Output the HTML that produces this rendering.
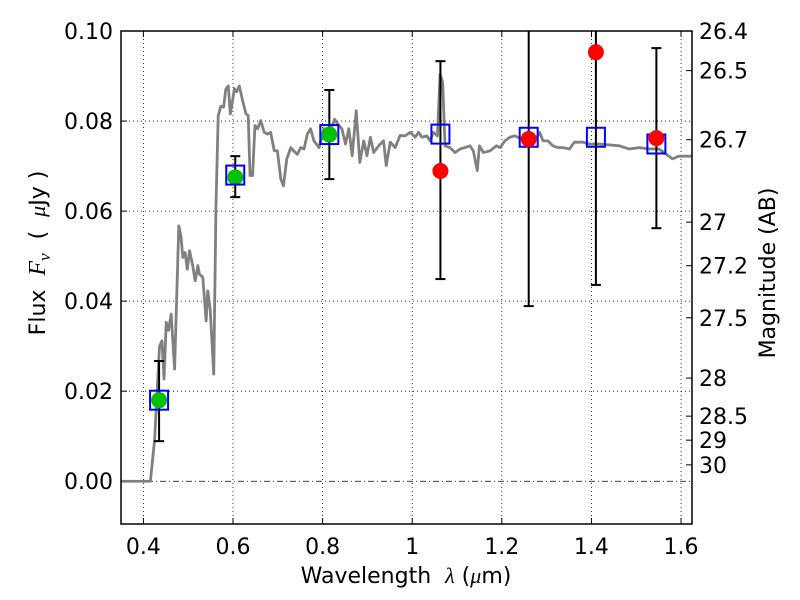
<!DOCTYPE html>
<html><head><meta charset="utf-8"><style>
body{margin:0;background:#fff;}
svg{display:block;font-family:"DejaVu Sans","Liberation Sans",sans-serif;}
svg text{white-space:pre;}
</style></head><body>
<svg id="chart" width="800" height="600"></svg>
<script>
const waveSpec=[0.35,0.4156,0.425,0.436,0.4415,0.446,0.451,0.456,0.462,0.4696,0.479,0.484,0.488,0.493,0.498,0.503,0.510,0.5156,0.5215,0.525,0.5326,0.54,0.5437,0.549,0.557,0.562,0.567,0.573,0.579,0.584,0.5896,0.594,0.599,0.603,0.608,0.614,0.6215,0.629,0.634,0.638,0.6437,0.649,0.655,0.662,0.6696,0.677,0.684,0.692,0.699,0.7067,0.7126,0.72,0.729,0.736,0.7437,0.751,0.7585,0.766,0.773,0.7807,0.792,0.803,0.818,0.8267,0.836,0.843,0.851,0.8585,0.866,0.875,0.883,0.8918,0.899,0.9067,0.914,0.925,0.936,0.942,0.951,0.962,0.973,0.984,0.9956,1.0067,1.0141,1.0215,1.0326,1.04,1.0474,1.0563,1.0622,1.068,1.0733,1.0844,1.0956,1.1067,1.1178,1.129,1.1363,1.1452,1.15,1.159,1.174,1.188,1.196,1.207,1.2178,1.229,1.24,1.255,1.27,1.2844,1.292,1.303,1.314,1.325,1.336,1.351,1.362,1.381,1.395,1.418,1.44,1.462,1.484,1.507,1.529,1.551,1.566,1.5807,1.595,1.625];
const fluxSpec=[0,0,0.0092,0.030,0.0312,0.0227,0.0353,0.0335,0.0371,0.0249,0.0567,0.0543,0.0497,0.0508,0.0471,0.0512,0.0479,0.0445,0.0479,0.046,0.0453,0.0356,0.0423,0.0382,0.0238,0.0612,0.0812,0.0833,0.0831,0.0871,0.0878,0.0816,0.0845,0.0872,0.0865,0.0878,0.0845,0.0816,0.0812,0.0679,0.0679,0.079,0.0783,0.0801,0.0775,0.0771,0.0775,0.0734,0.0734,0.0671,0.0656,0.0716,0.0741,0.0733,0.0726,0.0741,0.0738,0.0771,0.0783,0.0756,0.0741,0.0783,0.0780,0.0804,0.0790,0.0783,0.0749,0.0783,0.0723,0.0823,0.0708,0.0756,0.0723,0.0764,0.0730,0.0745,0.0756,0.0701,0.0753,0.0741,0.0768,0.0767,0.0775,0.0764,0.0775,0.0764,0.0767,0.0756,0.0775,0.0767,0.0904,0.0886,0.0745,0.0741,0.0730,0.0738,0.0741,0.0745,0.0734,0.0690,0.0745,0.0730,0.0734,0.0745,0.0741,0.0756,0.0764,0.0767,0.0762,0.0756,0.0749,0.0775,0.0756,0.0756,0.0745,0.0741,0.0741,0.0738,0.0753,0.0753,0.0749,0.0749,0.0747,0.0745,0.0738,0.0741,0.0738,0.0738,0.0727,0.0716,0.0722,0.0722];
const greenWave=[0.435,0.605,0.815];
const greenFlux=[0.018,0.0675,0.077];
const squareWave=[0.435,0.605,0.815,1.063,1.26,1.41,1.545];
const squareFlux=[0.018,0.068,0.077,0.0771,0.0764,0.0764,0.0749];
const redWave=[1.063,1.26,1.41,1.545];
const redFlux=[0.0689,0.076,0.0953,0.0762];
const errWave=[0.435,0.605,0.815,1.063,1.26,1.41,1.545];
const errLow=[0.0089,0.0631,0.0671,0.0449,0.0389,0.0436,0.0562];
const errHigh=[0.0267,0.0722,0.0869,0.0933,0.1139,0.109,0.0962];
const xTicks=[0.4,0.6,0.8,1.0,1.2,1.4,1.6];
const xTickLabels=["0.4","0.6","0.8","1","1.2","1.4","1.6"];
const yTicks=[0,0.02,0.04,0.06,0.08,0.10];
const yTickLabels=["0.00","0.02","0.04","0.06","0.08","0.10"];
const magTicks=[26.4,26.5,26.7,27,27.2,27.5,28,28.5,29,30];

const L=121,R=692,T=31,B=524;
const xMin=0.35,xMax=1.6245,yMin=-0.0095,yMax=0.10;
const xs=v=>L+(v-xMin)/(xMax-xMin)*(R-L);
const ys=v=>T+(yMax-v)/(yMax-yMin)*(B-T);
const svg=document.getElementById('chart');
const NS='http://www.w3.org/2000/svg';
function mk(tag,attrs,parent){const e=document.createElementNS(NS,tag);for(const k in attrs)e.setAttribute(k,attrs[k]);(parent||svg).appendChild(e);return e;}

const clip=mk('clipPath',{id:'pc'});mk('rect',{x:L,y:T,width:R-L,height:B-T},clip);

xTicks.forEach((v,i)=>{
  const g=mk('line',{x1:xs(v),x2:xs(v),y1:T,y2:B,stroke:'#000','stroke-width':0.8,'stroke-dasharray':'1,3'});
  
  
  mk('line',{x1:xs(v),x2:xs(v),y1:B,y2:B-6,stroke:'#000'});
  mk('line',{x1:xs(v),x2:xs(v),y1:T,y2:T+6,stroke:'#000'});
  const lb=mk('text',{x:xs(v),y:B+30,'text-anchor':'middle','font-size':22});
  lb.textContent=xTickLabels[i];
  
  
});
yTicks.forEach((v,i)=>{
  const g=mk('line',{x1:L,x2:R,y1:ys(v),y2:ys(v),stroke:'#000','stroke-width':0.8,'stroke-dasharray':v===0?'6,3,1,3':'1,3'});
  
  
  mk('line',{x1:L,x2:L+6,y1:ys(v),y2:ys(v),stroke:'#000'});
  const lb=mk('text',{x:113,y:ys(v)+8,'text-anchor':'end','font-size':22});
  lb.textContent=yTickLabels[i];
  
  
});
magTicks.forEach(m=>{
  const f=Math.pow(10,(23.9-m)/2.5);
  const y=ys(f);
  mk('line',{x1:R,x2:R-6,y1:y,y2:y,stroke:'#000'});
  const lb=mk('text',{x:699,y:y+8,'font-size':22});
  lb.textContent=String(m);
  
  
});

const g=mk('g',{'clip-path':'url(#pc)'});
const sp=mk('polyline',{points:waveSpec.map((w,i)=>xs(w)+','+ys(fluxSpec[i])).join(' '),fill:'none',stroke:'#808080','stroke-width':2.8,'stroke-linejoin':'round'},g);



errWave.forEach((w,i)=>{
  const x=xs(w);
  const eb=mk('line',{x1:x,x2:x,y1:ys(errLow[i]),y2:ys(errHigh[i]),stroke:'#000','stroke-width':2},g);
  
  
  mk('line',{x1:x-5,x2:x+5,y1:ys(errLow[i]),y2:ys(errLow[i]),stroke:'#000','stroke-width':2},g);
  mk('line',{x1:x-5,x2:x+5,y1:ys(errHigh[i]),y2:ys(errHigh[i]),stroke:'#000','stroke-width':2},g);
});
greenWave.forEach((w,i)=>{
  const c=mk('circle',{cx:xs(w),cy:ys(greenFlux[i]),r:8,fill:'#00c000'},g);
  
  
});
squareWave.forEach((w,i)=>{
  const s=mk('rect',{x:xs(w)-9,y:ys(squareFlux[i])-9.5,width:18,height:19,fill:'none',stroke:'#0000ff','stroke-width':2},g);
  
  
});
redWave.forEach((w,i)=>{
  const c=mk('circle',{cx:xs(w),cy:ys(redFlux[i]),r:8,fill:'#ff0000'},g);
  
  
});

const fr=mk('rect',{x:L,y:T,width:R-L,height:B-T,fill:'none',stroke:'#000','stroke-width':1.5});



const xl=mk('text',{x:406,y:583,'text-anchor':'middle','font-size':22});
xl.innerHTML='Wavelength  <tspan font-family="Liberation Serif" font-style="italic">λ</tspan> (<tspan font-family="Liberation Serif" font-style="italic">μ</tspan>m)';


const yl=mk('text',{x:0,y:0,'text-anchor':'middle','font-size':22,transform:'translate(45,253) rotate(-90)'});
yl.innerHTML='Flux  <tspan font-family="Liberation Serif" font-style="italic" font-size="24">F</tspan><tspan font-family="Liberation Serif" font-style="italic" font-size="17" dy="5">ν</tspan><tspan dy="-5">  (  </tspan><tspan font-family="Liberation Serif" font-style="italic">μ</tspan>Jy )';


const rl=mk('text',{x:0,y:0,'text-anchor':'middle','font-size':22,transform:'translate(775,273) rotate(-90)'});
rl.textContent='Magnitude (AB)';


</script>
</body></html>
